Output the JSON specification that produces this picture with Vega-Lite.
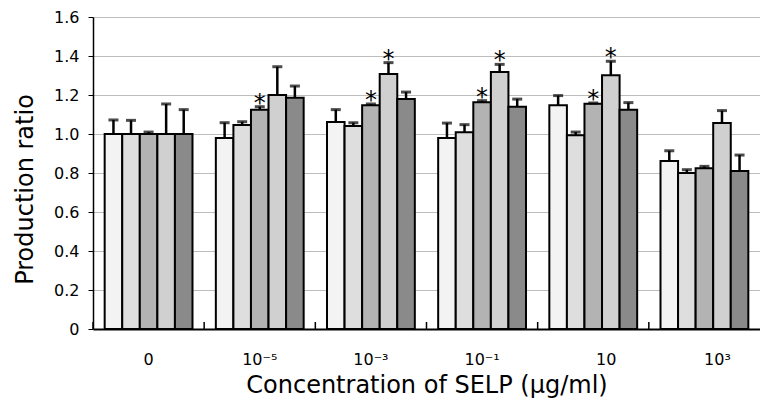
{
  "$schema": "https://vega.github.io/schema/vega-lite/v6.json",
  "width": 667,
  "height": 312,
  "autosize": {"type": "none"},
  "padding": {"left": 93, "top": 17, "right": 0, "bottom": 81},
  "background": "white",
  "config": {
    "view": {"stroke": null},
    "font": "DejaVu Sans"
  },
  "resolve": {"scale": {"y": "shared"}, "axis": {"y": "independent"}},
  "data": {
    "values": [
      {"conc": "0", "series": "A", "value": 1.0, "upper": 1.072, "sig": false},
      {"conc": "0", "series": "B", "value": 1.0, "upper": 1.07, "sig": false},
      {"conc": "0", "series": "C", "value": 1.0, "upper": 1.01, "sig": false},
      {"conc": "0", "series": "D", "value": 1.0, "upper": 1.154, "sig": false},
      {"conc": "0", "series": "E", "value": 1.0, "upper": 1.125, "sig": false},
      {"conc": "10⁻⁵", "series": "A", "value": 0.979, "upper": 1.058, "sig": false},
      {"conc": "10⁻⁵", "series": "B", "value": 1.046, "upper": 1.063, "sig": false},
      {"conc": "10⁻⁵", "series": "C", "value": 1.125, "upper": 1.14, "sig": true},
      {"conc": "10⁻⁵", "series": "D", "value": 1.2, "upper": 1.345, "sig": false},
      {"conc": "10⁻⁵", "series": "E", "value": 1.186, "upper": 1.246, "sig": false},
      {"conc": "10⁻³", "series": "A", "value": 1.062, "upper": 1.125, "sig": false},
      {"conc": "10⁻³", "series": "B", "value": 1.041, "upper": 1.058, "sig": false},
      {"conc": "10⁻³", "series": "C", "value": 1.147, "upper": 1.154, "sig": true},
      {"conc": "10⁻³", "series": "D", "value": 1.308, "upper": 1.366, "sig": true},
      {"conc": "10⁻³", "series": "E", "value": 1.179, "upper": 1.215, "sig": false},
      {"conc": "10⁻¹", "series": "A", "value": 0.979, "upper": 1.056, "sig": false},
      {"conc": "10⁻¹", "series": "B", "value": 1.009, "upper": 1.048, "sig": false},
      {"conc": "10⁻¹", "series": "C", "value": 1.163, "upper": 1.171, "sig": true},
      {"conc": "10⁻¹", "series": "D", "value": 1.318, "upper": 1.357, "sig": true},
      {"conc": "10⁻¹", "series": "E", "value": 1.14, "upper": 1.179, "sig": false},
      {"conc": "10", "series": "A", "value": 1.147, "upper": 1.197, "sig": false},
      {"conc": "10", "series": "B", "value": 0.993, "upper": 1.01, "sig": false},
      {"conc": "10", "series": "C", "value": 1.155, "upper": 1.159, "sig": true},
      {"conc": "10", "series": "D", "value": 1.301, "upper": 1.373, "sig": true},
      {"conc": "10", "series": "E", "value": 1.125, "upper": 1.161, "sig": false},
      {"conc": "10³", "series": "A", "value": 0.862, "upper": 0.914, "sig": false},
      {"conc": "10³", "series": "B", "value": 0.8, "upper": 0.817, "sig": false},
      {"conc": "10³", "series": "C", "value": 0.824, "upper": 0.834, "sig": false},
      {"conc": "10³", "series": "D", "value": 1.056, "upper": 1.12, "sig": false},
      {"conc": "10³", "series": "E", "value": 0.81, "upper": 0.892, "sig": false}
    ]
  },
  "encoding": {
    "x": {
      "field": "conc",
      "type": "nominal",
      "sort": ["0", "10⁻⁵", "10⁻³", "10⁻¹", "10", "10³"],
      "scale": {"paddingInner": 0.21, "paddingOuter": 0.105},
      "axis": {
        "title": "Concentration of SELP (μg/ml)",
        "grid": false,
        "ticks": false,
        "labelFontSize": 16,
        "labelColor": "black",
        "labelAngle": 0,
        "labelBaseline": "alphabetic",
        "labelPadding": 35,
        "labelOffset": {"condition": {"test": "datum.value === '10' || datum.value === '10³'", "value": 13}, "value": 0},
        "domainColor": "black",
        "domainWidth": 2,
        "titleFontSize": 24,
        "titleFontWeight": "normal",
        "titleColor": "black",
        "titleY": 63,
        "titleBaseline": "alphabetic",
        "zindex": 1
      }
    }
  },
  "layer": [
    {
      "mark": {"type": "bar", "stroke": "black", "strokeWidth": 2},
      "encoding": {
        "xOffset": {"field": "series", "type": "nominal", "scale": {"paddingInner": 0, "paddingOuter": 0}},
        "y": {
          "field": "value",
          "type": "quantitative",
          "scale": {"domain": [0, 1.6], "nice": false},
          "axis": {
            "orient": "left",
            "title": "Production ratio",
            "values": [0, 0.2, 0.4, 0.6, 0.8, 1, 1.2, 1.4, 1.6],
            "labelOverlap": false,
            "labelExpr": "datum.value == 0 ? '0' : format(datum.value, '.1f')",
            "labelFontSize": 16,
            "labelColor": "black",
            "labelPadding": 9,
            "tickColor": "black",
            "tickSize": 5,
            "domainColor": "black",
            "domainWidth": 1.5,
            "gridColor": "#bdbdbd",
            "titleFontSize": 24,
            "titleFontWeight": "normal",
            "titleColor": "black",
            "titleX": -61,
            "titleY": 172,
            "titleAngle": 270,
            "titleAlign": "center",
            "titleBaseline": "alphabetic"
          }
        },
        "fill": {
          "field": "series",
          "type": "nominal",
          "scale": {"domain": ["A", "B", "C", "D", "E"], "range": ["#f3f3f3", "#dedede", "#b3b3b3", "#d0d0d0", "#8a8a8a"]},
          "legend": null
        }
      }
    },
    {
      "mark": {"type": "rule", "strokeWidth": 2.5, "color": "black"},
      "encoding": {
        "xOffset": {"field": "series", "type": "nominal"},
        "y": {"field": "value", "type": "quantitative", "axis": null},
        "y2": {"field": "upper"}
      }
    },
    {
      "mark": {"type": "tick", "size": 10, "thickness": 3, "color": "black"},
      "encoding": {
        "xOffset": {"field": "series", "type": "nominal"},
        "y": {"field": "upper", "type": "quantitative", "axis": null}
      }
    },
    {
      "transform": [{"filter": "datum.sig"}],
      "mark": {"type": "text", "text": "*", "fontSize": 24, "dy": 4, "baseline": "alphabetic", "color": "black"},
      "encoding": {
        "xOffset": {"field": "series", "type": "nominal"},
        "y": {"field": "upper", "type": "quantitative", "axis": null}
      }
    },
    {
      "transform": [{"filter": "datum.series === 'A'"}],
      "mark": {"type": "rule", "strokeWidth": 1.5, "color": "black"},
      "encoding": {
        "x": {"field": "conc", "type": "nominal", "bandPosition": -0.133},
        "y": {"datum": 0, "axis": null},
        "y2": {"datum": 0.036}
      }
    }
  ]
}
